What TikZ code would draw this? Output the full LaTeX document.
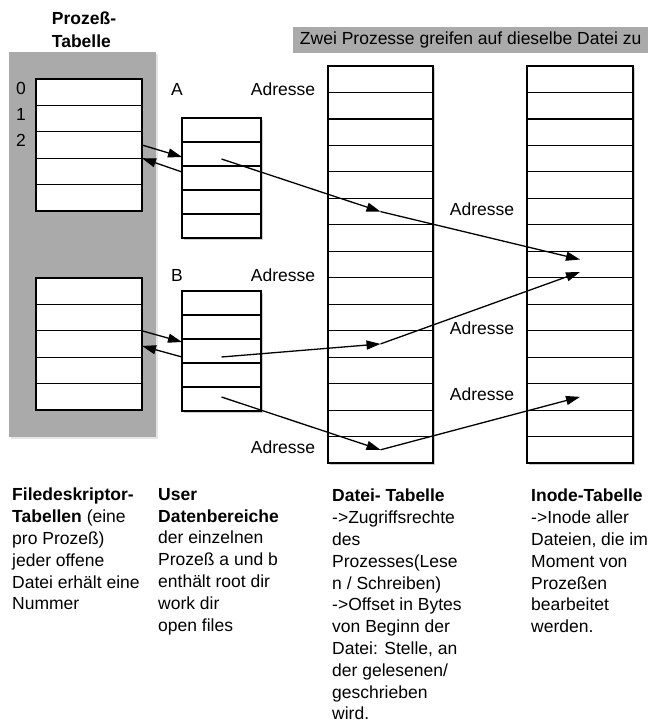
\documentclass[tikz,border=0pt]{standalone}
\usepackage{fontspec}
\setmainfont{Liberation Sans}
\usetikzlibrary{arrows.meta,shadows,positioning}

\definecolor{panelgrau}{RGB}{170,170,170}

\begin{document}
\begin{tikzpicture}[x=1pt,y=-1pt,font=\fontsize{17.5}{21.8}\selectfont,
  zeile/.style={draw,fill=white,line width=1.2pt,inner sep=0,outer sep=0},
  schatten/.style={drop shadow={shadow xshift=2pt,shadow yshift=-2pt,fill=black!40,opacity=0.5}},
  pfeil/.style={line width=1.3pt,-{Triangle[length=14pt,width=9pt]}},
  beschr/.style={inner sep=0,align=left,anchor=north west}]

\useasboundingbox (0,0) rectangle (648,725);

% Kopf
\node[fill=panelgrau,minimum width=355pt,minimum height=26pt,inner sep=0,anchor=west] (titel) at (293,40) {Zwei Prozesse greifen auf dieselbe Datei zu};
\node[font=\fontsize{17.5}{23}\selectfont\bfseries,align=left,inner sep=0] (ptitel) at (84,30) {Prozeß-\\Tabelle};

% Prozess-Tabelle
\fill[panelgrau,drop shadow={shadow xshift=2pt,shadow yshift=-2pt,fill=black!20}] (9,52) rectangle (156,437);
\foreach \i in {1,...,5} {
  \node[zeile,minimum width=106pt,minimum height=26.4pt] (pa\i) at (89,{79+26.4*(\i-0.5)}) {};
  \node[zeile,minimum width=106pt,minimum height=26.4pt] (pb\i) at (89,{278+26.4*(\i-0.5)}) {};
}
\foreach \n/\y in {0/88,1/114,2/140}
  \node[inner sep=0] (nr\n) at (21,\y) {\n};

% Datenbereiche A und B
\foreach \i in {1,...,5} {
  \node[zeile,schatten,minimum width=79pt,minimum height=24pt] (ua\i) at (221.5,{118+24*(\i-0.5)}) {};
  \node[zeile,schatten,minimum width=79pt,minimum height=24pt] (ub\i) at (221.5,{291+24*(\i-0.5)}) {};
}
\node[inner sep=0] (la) at (177,89) {A};
\node[inner sep=0] (lb) at (177,275) {B};

% Datei- und Inode-Tabelle
\foreach \i in {1,...,15} {
  \node[zeile,schatten,minimum width=105pt,minimum height=26.47pt] (dt\i) at (380.5,{66+26.47*(\i-0.5)}) {};
  \node[zeile,schatten,minimum width=106pt,minimum height=26.47pt] (in\i) at (580,{66+26.47*(\i-0.5)}) {};
}

\node[inner sep=0] (adr1) at (283,89) {Adresse};
\node[inner sep=0] (adr2) at (283,275) {Adresse};
\node[inner sep=0] (adr3) at (283,447) {Adresse};
\node[inner sep=0] (adr4) at (482,209) {Adresse};
\node[inner sep=0] (adr5) at (482,328) {Adresse};
\node[inner sep=0] (adr6) at (482,394) {Adresse};

% Verweise
\draw[pfeil] (pa3.east) -- ([yshift=-3pt]ua2.west);
\draw[pfeil] ([yshift=6pt]ua3.west) -- (pa4.north east);
\draw[pfeil] ([yshift=-5pt]ua2.center) -- (dt6.center);
\draw[pfeil] (dt6.center) -- ([yshift=5pt]in8.center);

\draw[pfeil] (pb3.north east) -- ([yshift=9pt]ub3.west);
\draw[pfeil] ([yshift=-6pt]ub3.west) -- ([yshift=-2pt]pb3.east);
\draw[pfeil] ([yshift=-6pt]ub3.center) -- (dt11.center);
\draw[pfeil] (dt11.center) -- ([yshift=-7.5pt]in8.center);
\draw[pfeil] ([yshift=2pt]ub5.center) -- (dt15.center);
\draw[pfeil] (dt15.center) -- (in13.center);

% Beschreibungen
\node[beschr] (txtfd) at (12,488) {\textbf{Filedeskriptor-}\\\textbf{Tabellen} (eine\\pro Prozeß)\\jeder offene\\Datei erhält eine\\Nummer};
\node[beschr] (txtud) at (158,488) {\textbf{User}\\\textbf{Datenbereiche}\\der einzelnen\\Prozeß a und b\\enthält root dir\\work dir\\open files};
\node[beschr] (txtdt) at (332,489) {\textbf{Datei- Tabelle}\\->Zugriffsrechte\\des\\Prozesses(Lese\\n / Schreiben)\\->Offset in Bytes\\von Beginn der\\Datei: Stelle, an\\der gelesenen/\\geschrieben\\wird.};
\node[beschr] (txtin) at (531,489) {\textbf{Inode-Tabelle}\\->Inode aller\\Dateien, die im\\Moment von\\Prozeßen\\bearbeitet\\werden.};

\end{tikzpicture}
\end{document}
